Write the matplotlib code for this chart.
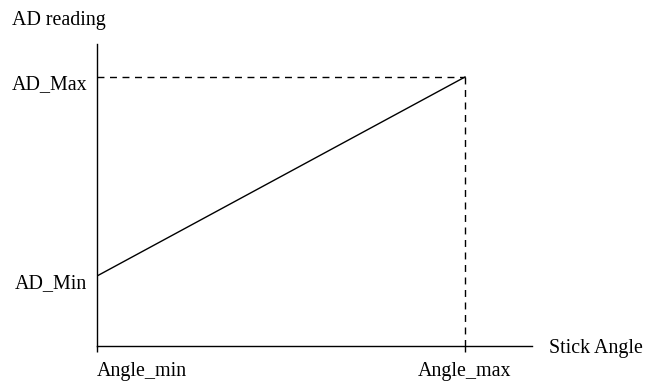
import matplotlib
matplotlib.use("Agg")
import matplotlib.pyplot as plt
import matplotlib.transforms as mtransforms

plt.rcParams['font.family'] = ['Liberation Serif', 'DejaVu Serif']

angles = [0.0, 1.0]
ad_values = [1.0, 2.0]
x_tick_labels = ["Angle_min", "Angle_max"]
y_tick_labels = ["AD_Min", "AD_Max"]
x_label = "Stick Angle"
y_label = "AD reading"

FS = 14.4
W, H = 645, 383
fig = plt.figure(figsize=(W / 100, H / 100), dpi=100)
ax = fig.add_axes([97 / W, (H - 346) / H, (532 - 97) / W, (346 - 44) / H])

ax.plot(angles, ad_values, color='black', lw=1.0)
ax.plot([angles[0], angles[1]], [ad_values[1], ad_values[1]], color='black', lw=1.0, ls=(0, (5, 4)))
ax.plot([angles[1], angles[1]], [ad_values[1], 0.648], color='black', lw=1.0, ls=(0, (5, 4)))

ax.set_xlim(0, (532 - 97) / (465 - 97))
ax.set_ylim(1 - (346 - 276) / 199, 2 + (77 - 44) / 199)

for s in ['top', 'right']:
    ax.spines[s].set_visible(False)
for s in ['left', 'bottom']:
    ax.spines[s].set_linewidth(1.0)

ax.set_xticks(angles)
ax.set_xticklabels(x_tick_labels, fontsize=FS)
ax.get_xticklabels()[0].set_horizontalalignment('left')
ax.set_yticks(ad_values)
ax.set_yticklabels(y_tick_labels, fontsize=FS)
ax.tick_params(axis='x', direction='out', length=4.5, width=1.0, pad=7)
ax.tick_params(axis='y', length=0, pad=7)

shift = mtransforms.ScaledTranslation(0, -5 / 100, fig.dpi_scale_trans)
for lbl in ax.get_yticklabels():
    lbl.set_transform(lbl.get_transform() + shift)

fig.text(549 / W, 1 - 348 / H, x_label, fontsize=FS, ha='left', va='center')
fig.text(12 / W, 1 - 20 / H, y_label, fontsize=FS, ha='left', va='center')

fig.savefig("out.png", dpi=100)
